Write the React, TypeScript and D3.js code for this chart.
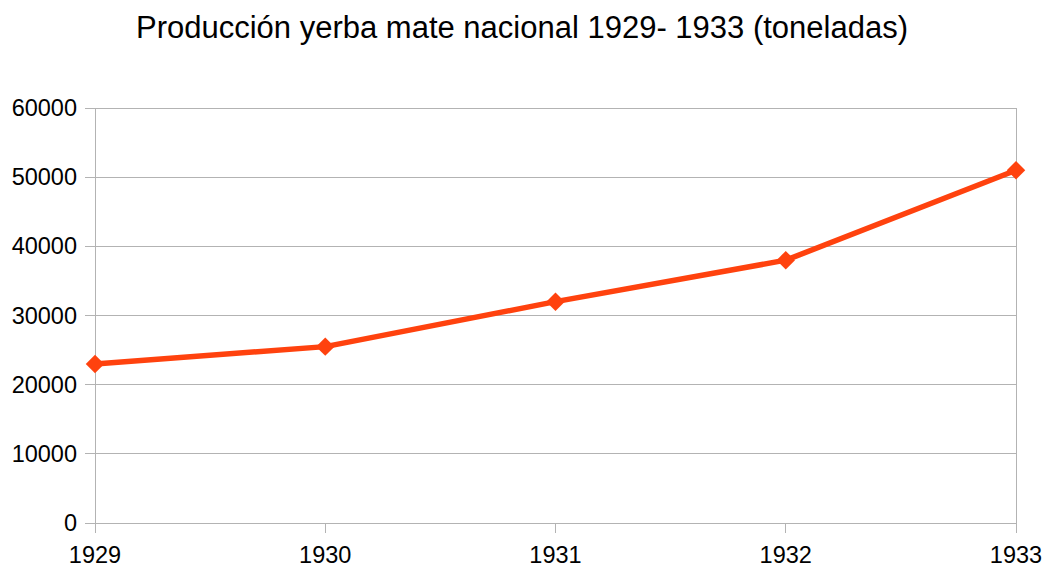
import React, { useRef, useEffect } from 'react';
import * as d3 from 'd3';

const years = ['1929', '1930', '1931', '1932', '1933'];
const production = [23000, 25500, 32000, 38000, 51000];
const yTicks = [0, 10000, 20000, 30000, 40000, 50000, 60000];
const title = 'Producción yerba mate nacional 1929- 1933 (toneladas)';

export default function App() {
  const svgRef = useRef<SVGSVGElement>(null);

  useEffect(() => {
    const svg = d3.select(svgRef.current);
    svg.selectAll('*').remove();

    const left = 95, right = 1016, top = 108, bottom = 523;
    const font = '"Liberation Sans", Arial, sans-serif';

    const x = d3.scalePoint<string>().domain(years).range([left, right]);
    const y = d3.scaleLinear().domain([0, 60000]).range([bottom, top]);

    svg.append('text')
      .attr('x', 522).attr('y', 38)
      .attr('text-anchor', 'middle')
      .attr('font-family', font).attr('font-size', 31)
      .attr('fill', '#000')
      .text(title);

    // horizontal gridlines + y ticks
    svg.append('g').selectAll('line')
      .data(yTicks)
      .enter().append('line')
      .attr('x1', left - 10).attr('x2', right)
      .attr('y1', d => y(d)).attr('y2', d => y(d))
      .attr('stroke', '#b3b3b3').attr('stroke-width', 1)
      .attr('shape-rendering', 'crispEdges');

    svg.append('g').selectAll('text')
      .data(yTicks)
      .enter().append('text')
      .attr('x', 77).attr('y', d => y(d) + 8)
      .attr('text-anchor', 'end')
      .attr('font-family', font).attr('font-size', 23.5)
      .text(d => d);

    // y axis line and right edge
    svg.append('line')
      .attr('x1', left).attr('x2', left)
      .attr('y1', top).attr('y2', bottom + 10)
      .attr('stroke', '#b3b3b3').attr('shape-rendering', 'crispEdges');
    svg.append('line')
      .attr('x1', right).attr('x2', right)
      .attr('y1', top).attr('y2', bottom + 10)
      .attr('stroke', '#b3b3b3').attr('shape-rendering', 'crispEdges');

    // x ticks
    svg.append('g').selectAll('line')
      .data(years)
      .enter().append('line')
      .attr('x1', d => x(d)!).attr('x2', d => x(d)!)
      .attr('y1', bottom).attr('y2', bottom + 10)
      .attr('stroke', '#b3b3b3').attr('shape-rendering', 'crispEdges');

    svg.append('g').selectAll('text')
      .data(years)
      .enter().append('text')
      .attr('x', d => x(d)!).attr('y', 563)
      .attr('text-anchor', 'middle')
      .attr('font-family', font).attr('font-size', 23.5)
      .text(d => d);

    const line = d3.line<number>()
      .x((d, i) => x(years[i])!)
      .y(d => y(d));

    svg.append('path')
      .datum(production)
      .attr('fill', 'none')
      .attr('stroke', '#ff420e')
      .attr('stroke-width', 5.5)
      .attr('stroke-linejoin', 'round')
      .attr('d', line);

    const diamond = d3.symbol().type(d3.symbolSquare).size(170);
    svg.append('g').selectAll('path')
      .data(production)
      .enter().append('path')
      .attr('d', diamond)
      .attr('transform', (d, i) => `translate(${x(years[i])},${y(d)}) rotate(45)`)
      .attr('fill', '#ff420e');
  }, []);

  return (
    <div style={{ position: 'absolute', left: 0, top: 0 }}>
      <svg ref={svgRef} width={1044} height={565} style={{ display: 'block', background: '#fff' }}></svg>
    </div>
  );
}
